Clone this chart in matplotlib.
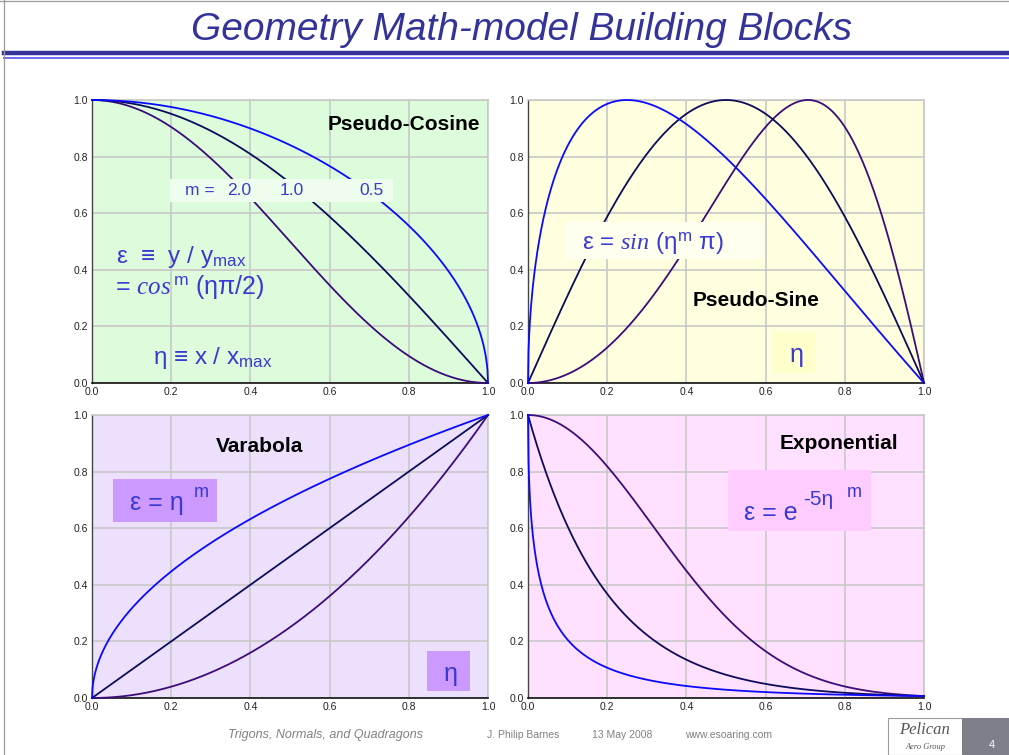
import numpy as np
import matplotlib
matplotlib.use("Agg")
import matplotlib.pyplot as plt
from matplotlib.patches import Rectangle

plt.rcParams["font.family"] = ["Liberation Sans", "DejaVu Sans"]
plt.rcParams["mathtext.fontset"] = "custom"
plt.rcParams["mathtext.rm"] = "Liberation Sans"
plt.rcParams["mathtext.it"] = "Liberation Serif:italic"
plt.rcParams["mathtext.bf"] = "Liberation Sans:bold"
plt.rcParams["mathtext.sf"] = "Liberation Sans"

# exponents m used in every building block, with the line colour of each
exponents = [2.0, 1.0, 0.5]
curve_colors = ["#3c0c78", "#0c0c5a", "#0a0aff"]
m_labels = ["2.0", "1.0", "0.5"]
ticks = [0.0, 0.2, 0.4, 0.6, 0.8, 1.0]
tick_labels = ["0.0", "0.2", "0.4", "0.6", "0.8", "1.0"]

eta = np.linspace(0.0, 1.0, 801)

# the four shape functions eps(eta, m)
blocks = {
    "Pseudo-Cosine": lambda x, m: np.cos(x * np.pi / 2) ** m,
    "Pseudo-Sine": lambda x, m: np.sin(x ** m * np.pi),
    "Varabola": lambda x, m: x ** m,
    "Exponential": lambda x, m: np.exp(-5 * x ** m),
}
bg_colors = {
    "Pseudo-Cosine": "#dcfcdc",
    "Pseudo-Sine": "#ffffe0",
    "Varabola": "#ece0fc",
    "Exponential": "#ffe0ff",
}

TXT = "#3a3ad2"
W, H = 1009, 755

fig = plt.figure(figsize=(W / 100, H / 100), dpi=100)


def px_rect(x0, y0, x1, y1):
    return [x0 / W, (H - y1) / H, (x1 - x0) / W, (y1 - y0) / H]


axes_px = {
    "Pseudo-Cosine": (92, 100, 488, 383),
    "Pseudo-Sine": (528, 100, 924, 383),
    "Varabola": (92, 415, 488, 698),
    "Exponential": (528, 415, 924, 698),
}

axs = {}
for name, bx in axes_px.items():
    ax = fig.add_axes(px_rect(*bx))
    ax.set_facecolor(bg_colors[name])
    f = blocks[name]
    with np.errstate(invalid="ignore"):
        for m, c in zip(exponents, curve_colors):
            ax.plot(eta, f(eta, m), color=c, lw=1.3, zorder=3, clip_on=False)
    ax.set_xlim(0, 1)
    ax.set_ylim(0, 1)
    ax.set_xticks(ticks)
    ax.set_yticks(ticks)
    ax.set_xticklabels(tick_labels)
    ax.set_yticklabels(tick_labels)
    ax.tick_params(length=0, labelsize=7.5, colors="#222222", pad=3)
    ax.grid(True, color="#c8c8c8", lw=1.2, zorder=1)
    ax.set_axisbelow(True)
    for s in ["top", "right"]:
        ax.spines[s].set_color("#c8c8c8")
        ax.spines[s].set_linewidth(1.2)
    ax.spines["left"].set_color("#444444")
    ax.spines["bottom"].set_color("#111111")
    ax.spines["left"].set_linewidth(1.0)
    ax.spines["bottom"].set_linewidth(1.2)
    axs[name] = ax


def box(ax, x0, y0, x1, y1, color):
    ax.add_patch(Rectangle((x0, y0), x1 - x0, y1 - y0, facecolor=color,
                           edgecolor="none", zorder=4, transform=ax.transData))


# Pseudo-Cosine
ax = axs["Pseudo-Cosine"]
ax.text(0.787, 0.915, "Pseudo-Cosine", fontsize=15, fontweight="bold",
        ha="center", va="center", zorder=6)
box(ax, 0.197, 0.64, 0.76, 0.72, "#eefdee")
ax.text(0.235, 0.68, "m =", fontsize=12.5, color=TXT, ha="left", va="center", zorder=6)
for lab, x in zip(m_labels, [0.371, 0.504, 0.705]):
    ax.text(x, 0.68, lab, fontsize=12.5, color=TXT, ha="center", va="center", zorder=6)
ax.text(0.06, 0.445, r"ε  ≡  y / y$_{\mathrm{max}}$", fontsize=17.5, color=TXT,
        ha="left", va="center", zorder=6)
ax.text(0.05, 0.34, r"$=\,\mathit{cos}^{\,\mathrm{m}}$ (ηπ/2)", fontsize=18,
        color=TXT, ha="left", va="center", zorder=6)
ax.text(0.154, 0.09, r"η ≡ x / x$_{\mathrm{max}}$", fontsize=17.5, color=TXT,
        ha="left", va="center", zorder=6)

# Pseudo-Sine
ax = axs["Pseudo-Sine"]
box(ax, 0.093, 0.437, 0.593, 0.568, "#ffffef")
ax.text(0.136, 0.495, r"ε = $\mathit{sin}$ (η$^{\mathrm{m}}$ π)", fontsize=17.5,
        color=TXT, ha="left", va="center", zorder=6)
ax.text(0.576, 0.291, "Pseudo-Sine", fontsize=15, fontweight="bold",
        ha="center", va="center", zorder=6)
box(ax, 0.619, 0.036, 0.726, 0.18, "#ffffcc")
ax.text(0.679, 0.10, "η", fontsize=18, color=TXT, ha="center", va="center", zorder=6)

# Varabola
ax = axs["Varabola"]
ax.text(0.424, 0.89, "Varabola", fontsize=15, fontweight="bold",
        ha="center", va="center", zorder=6)
box(ax, 0.053, 0.622, 0.316, 0.774, "#cc99ff")
ax.text(0.096, 0.69, "ε = η", fontsize=18, color=TXT, ha="left", va="center", zorder=6)
ax.text(0.258, 0.725, "m", fontsize=13, color=TXT, ha="left", va="center", zorder=6)
box(ax, 0.847, 0.023, 0.955, 0.167, "#cc99ff")
ax.text(0.905, 0.085, "η", fontsize=18, color=TXT, ha="center", va="center", zorder=6)

# Exponential
ax = axs["Exponential"]
ax.text(0.784, 0.90, "Exponential", fontsize=15, fontweight="bold",
        ha="center", va="center", zorder=6)
box(ax, 0.505, 0.591, 0.866, 0.806, "#ffccff")
ax.text(0.546, 0.655, "ε = e", fontsize=18, color=TXT,
        ha="left", va="center", zorder=6)
ax.text(0.694, 0.70, "-5η", fontsize=15, color=TXT, ha="left", va="center", zorder=6)
ax.text(0.805, 0.725, "m", fontsize=13, color=TXT, ha="left", va="center", zorder=6)

# title and header rules
fig.text(522 / W, 1 - 30 / H, "Geometry Math-model Building Blocks", fontsize=28,
         style="italic", color="#333399", ha="center", va="center")
fig.add_artist(plt.Line2D([4 / W, 1], [1 - 53 / H] * 2, color="#333399", lw=3.2))
fig.add_artist(plt.Line2D([4 / W, 1], [1 - 58.3 / H] * 2, color="#6a6aff", lw=1.4))
# slide frame
fig.add_artist(plt.Line2D([3.5 / W, 3.5 / W], [0, 1], color="#9a9a9a", lw=0.9))
fig.add_artist(plt.Line2D([0, 1], [1 - 0.5 / H] * 2, color="#9a9a9a", lw=0.9))

# footer
GR = "#808080"
fig.text(228 / W, 1 - 735 / H, "Trigons, Normals, and Quadragons", fontsize=9,
         style="italic", color=GR, ha="left", va="center")
fig.text(487 / W, 1 - 735 / H, "J. Philip Barnes", fontsize=7.5, color=GR,
         ha="left", va="center")
fig.text(592 / W, 1 - 735 / H, "13 May 2008", fontsize=7.5, color=GR,
         ha="left", va="center")
fig.text(685 / W, 1 - 735 / H, "www.esoaring.com", fontsize=7.5, color=GR,
         ha="left", va="center")

# logo block
fig.add_artist(Rectangle((888 / W, 0), 74 / W, 37 / H, transform=fig.transFigure,
                         facecolor="white", edgecolor="#9a9a9a", lw=0.8))
fig.add_artist(Rectangle((962 / W, 0), 47 / W, 37 / H, transform=fig.transFigure,
                         facecolor="#7d8088", edgecolor="none"))
fig.text(925 / W, 1 - 730 / H, "Pelican", fontsize=12, style="italic",
         family="Liberation Serif", color="#555555", ha="center", va="center")
fig.text(925 / W, 1 - 747 / H, "Aero Group", fontsize=6, style="italic",
         family="Liberation Serif", color="#555555", ha="center", va="center")
fig.text(992 / W, 1 - 745 / H, "4", fontsize=8, color="white",
         ha="center", va="center")

fig.savefig("out.png", dpi=100)
